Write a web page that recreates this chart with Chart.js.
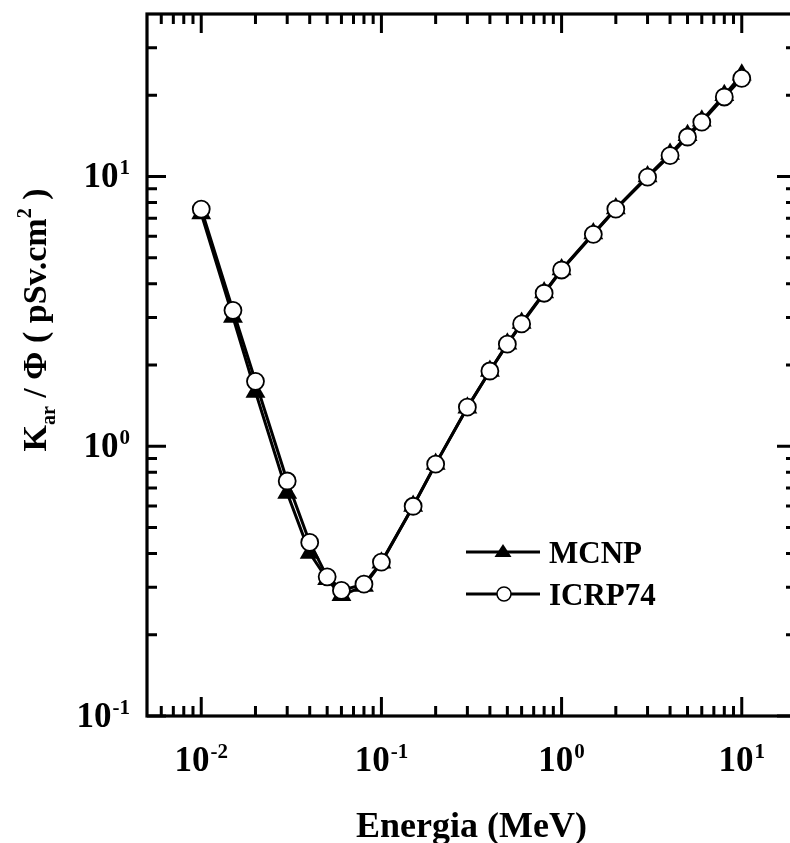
<!DOCTYPE html>
<html>
<head>
<meta charset="utf-8">
<script src="https://cdn.jsdelivr.net/npm/chart.js@4/dist/chart.umd.min.js"></script>
<style>
  html, body { margin: 0; padding: 0; overflow: hidden; background: #fff; }
  canvas { display: block; }
</style>
</head>
<body>
<canvas id="chart" width="810" height="843"></canvas>
<script>
// ── Kerma / fluence vs energy ──
// MCNP vs ICRP74, log-log.

const energies = [0.01, 0.015, 0.02, 0.03, 0.04, 0.05, 0.06, 0.08, 0.1, 0.15, 0.2, 0.3, 0.4,
                  0.5, 0.6, 0.8, 1, 1.5, 2, 3, 4, 5, 6, 8, 10];
const mcnp   = [7.28, 3.01, 1.59, 0.671, 0.402, 0.321, 0.280, 0.303, 0.370, 0.60, 0.86, 1.39, 1.90,
                2.40, 2.86, 3.71, 4.52, 6.15, 7.60, 10.0, 12.1, 14.2, 16.1, 20.0, 23.8];
const icrp74 = [7.57, 3.19, 1.74, 0.743, 0.440, 0.328, 0.292, 0.308, 0.372, 0.599, 0.858, 1.395, 1.90,
                2.39, 2.84, 3.69, 4.50, 6.10, 7.57, 9.94, 11.95, 14.0, 15.9, 19.7, 23.1];

const seriesNames = ['MCNP', 'ICRP74'];
const xTicks = [0.01, 0.1, 1, 10];
const xTickExp = ['-2', '-1', '0', '1'];
const yTicks = [0.1, 1, 10];
const yTickExp = ['-1', '0', '1'];
const xTitle = 'Energia (MeV)';

const FONT = '"Liberation Serif", "Times New Roman", serif';

function minorTicks(min, max) {
  const out = [];
  for (let d = Math.floor(Math.log10(min)); d <= Math.ceil(Math.log10(max)); d++) {
    for (let m = 2; m <= 9; m++) {
      const v = m * Math.pow(10, d);
      if (v > min * 1.0001 && v < max * 0.9999) out.push(v);
    }
  }
  return out;
}

// label "10" + superscript exponent, anchored by align
function powLabel(ctx, exp, x, y, align) {
  ctx.font = 'bold 35px ' + FONT;
  const w1 = ctx.measureText('10').width;
  ctx.font = 'bold 21px ' + FONT;
  const w2 = ctx.measureText(exp).width;
  const w = w1 + w2 + 1;
  let x0 = align === 'center' ? x - w / 2 : x - w;
  ctx.textAlign = 'left';
  ctx.textBaseline = 'alphabetic';
  ctx.font = 'bold 35px ' + FONT;
  ctx.fillText('10', x0, y);
  ctx.font = 'bold 21px ' + FONT;
  ctx.fillText(exp, x0 + w1 + 1, y - 13);
}

const framePlugin = {
  id: 'frame',
  afterDraw(chart) {
    const { ctx, chartArea: a, scales: { x, y } } = chart;
    ctx.save();
    ctx.strokeStyle = '#000';
    ctx.fillStyle = '#000';
    ctx.lineWidth = 3.2;
    ctx.lineCap = 'butt';
    ctx.strokeRect(a.left, a.top, a.right - a.left, a.bottom - a.top);

    const MAJ = 19, MIN = 10;
    ctx.lineWidth = 3;
    ctx.beginPath();
    xTicks.forEach(v => {
      const px = x.getPixelForValue(v);
      ctx.moveTo(px, a.bottom); ctx.lineTo(px, a.bottom - MAJ);
      ctx.moveTo(px, a.top); ctx.lineTo(px, a.top + MAJ);
    });
    minorTicks(x.min, x.max).forEach(v => {
      const px = x.getPixelForValue(v);
      ctx.moveTo(px, a.bottom); ctx.lineTo(px, a.bottom - MIN);
      ctx.moveTo(px, a.top); ctx.lineTo(px, a.top + MIN);
    });
    yTicks.forEach(v => {
      const py = y.getPixelForValue(v);
      ctx.moveTo(a.left, py); ctx.lineTo(a.left + MAJ, py);
      ctx.moveTo(a.right, py); ctx.lineTo(a.right - MAJ, py);
    });
    minorTicks(y.min, y.max).forEach(v => {
      const py = y.getPixelForValue(v);
      ctx.moveTo(a.left, py); ctx.lineTo(a.left + MIN, py);
      ctx.moveTo(a.right, py); ctx.lineTo(a.right - MIN, py);
    });
    ctx.stroke();

    // tick labels
    xTicks.forEach((v, i) => powLabel(ctx, xTickExp[i], x.getPixelForValue(v), 771, 'center'));
    yTicks.forEach((v, i) => powLabel(ctx, yTickExp[i], 130, y.getPixelForValue(v) + 11, 'right'));

    // x title
    ctx.font = 'bold 36px ' + FONT;
    ctx.textAlign = 'center';
    ctx.fillText(xTitle, (a.left + a.right) / 2, 837);

    // y title, rotated, with sub/superscripts
    const parts = [
      { t: 'K', s: 34, dy: 0 },
      { t: 'ar', s: 20, dy: 9 },
      { t: ' / \u03A6 ( pSv.cm', s: 34, dy: 0 },
      { t: '2', s: 20, dy: -15 },
      { t: ' )', s: 34, dy: 0 }
    ];
    let total = 0;
    parts.forEach(p => { ctx.font = 'bold ' + p.s + 'px ' + FONT; p.w = ctx.measureText(p.t).width; total += p.w; });
    ctx.translate(46, 320);
    ctx.rotate(-Math.PI / 2);
    ctx.textAlign = 'left';
    let cx = -total / 2;
    parts.forEach(p => {
      ctx.font = 'bold ' + p.s + 'px ' + FONT;
      ctx.fillText(p.t, cx, p.dy);
      cx += p.w;
    });
    ctx.restore();

    // legend
    ctx.save();
    const rows = [
      { name: seriesNames[0], y: 552, style: 'triangle' },
      { name: seriesNames[1], y: 594, style: 'circle' }
    ];
    rows.forEach(r => {
      ctx.strokeStyle = '#000';
      ctx.lineWidth = 3;
      ctx.beginPath();
      ctx.moveTo(466, r.y); ctx.lineTo(540, r.y);
      ctx.stroke();
      ctx.beginPath();
      if (r.style === 'triangle') {
        ctx.fillStyle = '#000';
        ctx.moveTo(503, r.y - 8);
        ctx.lineTo(503 + 8.5, r.y + 5);
        ctx.lineTo(503 - 8.5, r.y + 5);
        ctx.closePath();
        ctx.fill();
      } else {
        ctx.fillStyle = '#fff';
        ctx.lineWidth = 1.5;
        ctx.arc(504, r.y, 7, 0, Math.PI * 2);
        ctx.fill();
        ctx.stroke();
      }
      ctx.fillStyle = '#000';
      ctx.font = 'bold 31px ' + FONT;
      ctx.textAlign = 'left';
      ctx.textBaseline = 'alphabetic';
      ctx.fillText(r.name, 549, r.y + 11);
    });
    ctx.restore();
  }
};

const toPts = vals => energies.map((e, i) => ({ x: e, y: vals[i] }));

new Chart(document.getElementById('chart'), {
  type: 'line',
  data: {
    datasets: [
      {
        label: seriesNames[1],
        data: toPts(icrp74),
        borderColor: '#000',
        borderWidth: 3,
        pointStyle: 'circle',
        pointRadius: 8.5,
        pointBackgroundColor: '#fff',
        pointBorderColor: '#000',
        pointBorderWidth: 1.8,
        tension: 0,
        order: 0
      },
      {
        label: seriesNames[0],
        data: toPts(mcnp),
        borderColor: '#000',
        borderWidth: 3,
        pointStyle: 'triangle',
        pointRadius: 11.5,
        pointBackgroundColor: '#000',
        pointBorderColor: '#000',
        pointBorderWidth: 0,
        tension: 0,
        order: 1
      }
    ]
  },
  options: {
    responsive: false,
    animation: false,
    clip: false,
    layout: { padding: { left: 147, top: 14, right: 14, bottom: 127 } },
    plugins: { legend: { display: false }, tooltip: { enabled: false } },
    scales: {
      x: { type: 'logarithmic', min: 0.005, max: 20, display: false },
      y: { type: 'logarithmic', min: 0.1, max: 40, display: false }
    }
  },
  plugins: [framePlugin]
});
</script>
</body>
</html>
